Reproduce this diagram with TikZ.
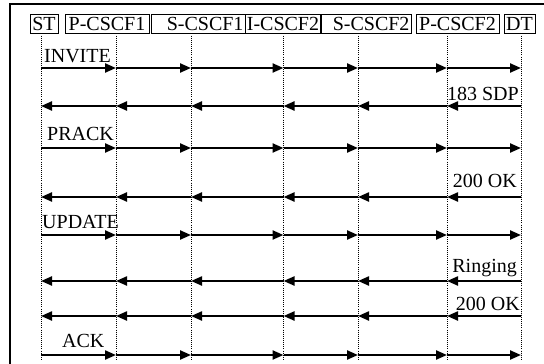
\documentclass[tikz,border=0pt]{standalone}
\usepackage{fontspec}
\setmainfont{Liberation Serif}
\usetikzlibrary{arrows.meta}
\tikzset{
  hdrbox/.style={
    draw=black,
    line width=0.8pt,
    inner sep=1.5pt,
    minimum height=19pt,
    font=\fontsize{20}{22}\selectfont
  },
  lifeline/.style={draw=black,line width=0.9pt,dash pattern=on 0.9pt off 1.2pt},
  msg/.style={-{Triangle[length=11pt,width=9pt]},draw=black,line width=2.2pt},
  msgrow/.style={every edge/.style={msg}},
  msglabel/.style={font=\fontsize{20}{22}\selectfont,inner sep=0pt},
  frameline/.style={draw=black,line width=1.6pt}
}
\begin{document}
\begin{tikzpicture}[x=1pt,y=-1pt]
\useasboundingbox (0,0) rectangle (544,364);
\draw[frameline] (10,364)--(10,4)--(544,4);
\node[hdrbox,minimum width=28pt] (st) at (44,23.5) {ST};
\node[hdrbox,minimum width=84pt] (pc1) at (107,23.5) {P-CSCF1};
\node[hdrbox,text width=91pt,align=right] (sc1) at (198,23.5) {S-CSCF1};
\node[hdrbox,minimum width=72pt] (ic2) at (283,23.5) {I-CSCF2};
\node[hdrbox,text width=87pt,align=right] (sc2) at (366,23.5) {S-CSCF2};
\node[hdrbox,minimum width=83pt] (pc2) at (457.5,23.5) {P-CSCF2};
\node[hdrbox,minimum width=31pt] (dt) at (519.5,23.5) {DT};
\coordinate (st-end) at (41,360);
\coordinate (pc1-end) at (116,360);
\coordinate (sc1-end) at (191,360);
\coordinate (ic2-end) at (283.5,360);
\coordinate (sc2-end) at (358,360);
\coordinate (pc2-end) at (447,360);
\coordinate (dt-end) at (521,360);
\draw[lifeline] (st-end |- st.south)--(st-end);
\draw[lifeline] (pc1-end |- pc1.south)--(pc1-end);
\draw[lifeline] (sc1-end |- sc1.south)--(sc1-end);
\draw[lifeline] (ic2-end |- ic2.south)--(ic2-end);
\draw[lifeline] (sc2-end |- sc2.south)--(sc2-end);
\draw[lifeline] (pc2-end |- pc2.south)--(pc2-end);
\draw[lifeline] (dt-end |- dt.south)--(dt-end);
\coordinate (r1) at (0,68);
\coordinate (r2) at (0,106);
\coordinate (r3) at (0,148);
\coordinate (r4) at (0,197);
\coordinate (r5) at (0,235);
\coordinate (r6) at (0,281);
\coordinate (r7) at (0,316);
\coordinate (r8) at (0,355);
\path[msgrow] (st-end |- r1) edge (pc1-end |- r1) (pc1-end |- r1) edge (sc1-end |- r1) (sc1-end |- r1) edge (ic2-end |- r1)
  (ic2-end |- r1) edge (sc2-end |- r1) (sc2-end |- r1) edge (pc2-end |- r1) (pc2-end |- r1) edge (dt-end |- r1);
\path[msgrow] (dt-end |- r2) edge (pc2-end |- r2) (pc2-end |- r2) edge (sc2-end |- r2) (sc2-end |- r2) edge (ic2-end |- r2)
  (ic2-end |- r2) edge (sc1-end |- r2) (sc1-end |- r2) edge (pc1-end |- r2) (pc1-end |- r2) edge (st-end |- r2);
\path[msgrow] (st-end |- r3) edge (pc1-end |- r3) (pc1-end |- r3) edge (sc1-end |- r3) (sc1-end |- r3) edge (ic2-end |- r3)
  (ic2-end |- r3) edge (sc2-end |- r3) (sc2-end |- r3) edge (pc2-end |- r3) (pc2-end |- r3) edge (dt-end |- r3);
\path[msgrow] (dt-end |- r4) edge (pc2-end |- r4) (pc2-end |- r4) edge (sc2-end |- r4) (sc2-end |- r4) edge (ic2-end |- r4)
  (ic2-end |- r4) edge (sc1-end |- r4) (sc1-end |- r4) edge (pc1-end |- r4) (pc1-end |- r4) edge (st-end |- r4);
\path[msgrow] (st-end |- r5) edge (pc1-end |- r5) (pc1-end |- r5) edge (sc1-end |- r5) (sc1-end |- r5) edge (ic2-end |- r5)
  (ic2-end |- r5) edge (sc2-end |- r5) (sc2-end |- r5) edge (pc2-end |- r5) (pc2-end |- r5) edge (dt-end |- r5);
\path[msgrow] (dt-end |- r6) edge (pc2-end |- r6) (pc2-end |- r6) edge (sc2-end |- r6) (sc2-end |- r6) edge (ic2-end |- r6)
  (ic2-end |- r6) edge (sc1-end |- r6) (sc1-end |- r6) edge (pc1-end |- r6) (pc1-end |- r6) edge (st-end |- r6);
\path[msgrow] (dt-end |- r7) edge (pc2-end |- r7) (pc2-end |- r7) edge (sc2-end |- r7) (sc2-end |- r7) edge (ic2-end |- r7)
  (ic2-end |- r7) edge (sc1-end |- r7) (sc1-end |- r7) edge (pc1-end |- r7) (pc1-end |- r7) edge (st-end |- r7);
\path[msgrow] (st-end |- r8) edge (pc1-end |- r8) (pc1-end |- r8) edge (sc1-end |- r8) (sc1-end |- r8) edge (ic2-end |- r8)
  (ic2-end |- r8) edge (sc2-end |- r8) (sc2-end |- r8) edge (pc2-end |- r8) (pc2-end |- r8) edge (dt-end |- r8);
\node[msglabel,anchor=base west] (invite) at ([xshift=3pt,yshift=6pt]st-end |- r1) {INVITE};
\node[msglabel,anchor=base east] (sdp) at ([xshift=-2pt,yshift=6pt]dt-end |- r2) {183 SDP};
\node[msglabel,anchor=base west] (prack) at ([xshift=6pt,yshift=8pt]st-end |- r3) {PRACK};
\node[msglabel,anchor=base east] (ok1) at ([xshift=-4pt,yshift=10pt]dt-end |- r4) {200 OK};
\node[msglabel,anchor=base west] (update) at ([xshift=1pt,yshift=7pt]st-end |- r5) {UPDATE};
\node[msglabel,anchor=base east] (ringing) at ([xshift=-4pt,yshift=9pt]dt-end |- r6) {Ringing};
\node[msglabel,anchor=base east] (ok2) at ([xshift=-1pt,yshift=6pt]dt-end |- r7) {200 OK};
\node[msglabel,anchor=base west] (ack) at ([xshift=21pt,yshift=8pt]st-end |- r8) {ACK};
\end{tikzpicture}
\end{document}
